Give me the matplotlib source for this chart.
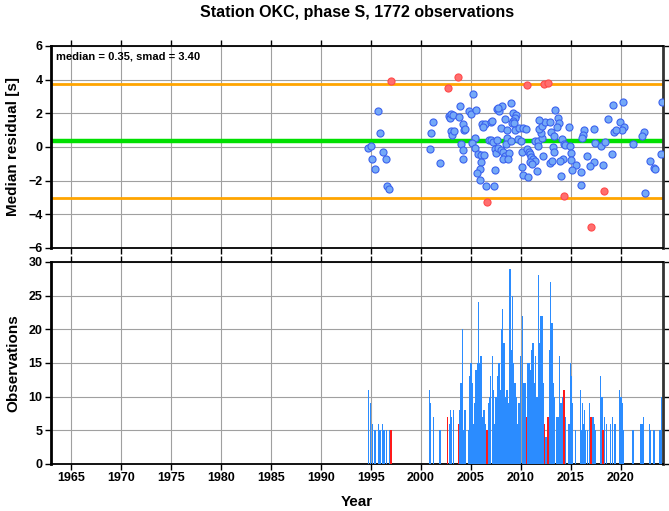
import numpy as np
import matplotlib
matplotlib.use("Agg")
import matplotlib.pyplot as plt

plt.rcParams['font.family'] = ['Liberation Sans', 'DejaVu Sans']
plt.rcParams['font.weight'] = 'bold'

# residual medians (year, residual [s])
blue_year = [1994.67, 1995.00, 1995.13, 1995.40, 1995.73, 1995.90, 1996.17, 1996.50, 1996.57, 1996.83,
             2000.87, 2000.97, 2001.20, 2001.90, 2002.80, 2002.90, 2003.00, 2003.20, 2003.00, 2003.15,
             2003.30, 2003.83, 2003.87, 2004.00, 2004.17, 2004.20, 2004.20, 2004.30,
             2005.17, 2004.77, 2005.00, 2005.50, 2007.60, 2007.83, 2008.13, 2007.70, 2008.97, 2009.20,
             2009.53, 2009.43, 2008.37, 2009.17, 2009.07, 2009.33, 2006.10, 2006.37, 2006.17, 2007.03,
             2007.13, 2004.37, 2007.97, 2008.60, 2009.37, 2009.83, 2010.23, 2010.50, 2008.60, 2005.37,
             2005.07, 2006.77, 2007.03, 2007.17, 2007.63, 2008.53, 2009.03, 2009.70, 2009.97, 2005.43,
             2005.67, 2006.00, 2006.30, 2006.03, 2005.93, 2005.57, 2005.87, 2006.50, 2007.30, 2007.37,
             2007.43, 2007.50, 2007.73, 2008.00, 2008.17, 2008.37, 2008.20, 2008.77, 2008.70, 2010.07,
             2010.13, 2010.23, 2010.70, 2010.60, 2010.77, 2010.93, 2011.03, 2011.23, 2011.37, 2010.90,
             2011.13, 2011.63, 2011.37, 2011.70, 2011.70, 2012.10, 2011.97, 2011.83, 2012.10, 2012.37,
             2012.90, 2011.83, 2012.23, 2013.40, 2013.73, 2013.83, 2013.63, 2013.03, 2013.27, 2013.17,
             2013.30, 2012.87, 2013.10, 2014.00, 2014.10, 2014.33, 2014.20, 2013.87,
             2019.17, 2020.20, 2024.07, 2018.67, 2014.77, 2016.30, 2016.20, 2016.10, 2017.33, 2019.93,
             2020.30, 2020.07, 2019.27, 2019.50, 2022.27, 2022.07, 2021.23, 2014.37, 2014.90, 2017.40,
             2017.97, 2018.43, 2019.07, 2024.00, 2015.03, 2014.97, 2015.47, 2015.10, 2016.03, 2016.63,
             2017.27, 2016.87, 2018.17, 2015.97, 2022.93, 2023.27, 2023.40, 2022.37]
blue_res = [-0.04, 0.08, -0.70, -1.31, 2.16, 0.81, -0.30, -0.73, -2.30, -2.50,
            -0.12, 0.81, 1.47, -0.97, 1.85, 1.70, 1.95, 1.90, 0.95, 0.70,
            0.95, 1.76, 2.45, 0.18, 1.37, -0.20, -0.70, 1.00,
            3.17, 2.16, 1.94, 2.18, 2.28, 2.12, 2.44, 2.34, 2.63, 2.00,
            1.90, 1.74, 1.68, 1.54, 1.41, 1.45, 1.35, 1.35, 1.17, 1.46,
            1.54, 1.05, 1.15, 1.01, 1.01, 1.15, 1.11, 1.05, 0.55, 0.55,
            0.26, 0.42, 0.42, 0.32, 0.40, 0.20, 0.36, 0.46, 0.36, -0.06,
            -0.42, -0.46, -0.48, -0.89, -1.33, -1.56, -1.98, -2.32, -2.32, -1.35,
            -0.10, -0.38, -0.08, -0.16, -0.32, -0.53, -0.73, -0.38, -0.73, -0.32,
            -1.21, -1.68, -1.78, -0.14, -0.32, -0.44, -0.57, -0.73, -0.81, -0.91,
            -1.03, -1.41, 0.38, 0.38, 0.06, 0.55, 0.81, 1.05, 1.27, 1.50,
            1.48, 1.60, -0.55, 2.22, 1.74, 1.41, 1.20, 0.91, 0.67, 0.02,
            -0.28, -0.97, -0.85, -1.72, 0.47, 0.18, -0.73, -0.81,
            2.52, 2.69, 2.65, 1.64, 1.19, 0.99, 0.71, 0.52, 1.09, 1.48,
            1.21, 0.99, 0.87, 0.99, 0.91, 0.63, 0.20, 0.12, 0.08, 0.26,
            0.06, 0.30, -0.40, -0.44, -0.38, -0.79, -1.05, -1.37, -1.49, -0.54,
            -0.91, -1.15, -1.05, -2.28, -0.81, -1.23, -1.31, -2.71]

red_year = [1996.97, 2002.67, 2003.73, 2006.60, 2010.60, 2012.30, 2012.70, 2014.30, 2017.00, 2018.27]
red_res = [3.92, 3.49, 4.18, -3.25, 3.68, 3.72, 3.82, -2.89, -4.77, -2.59]

median = 0.35
smad = 3.40

# observation counts per bin
obs_year = [1994.73, 1994.97, 1995.13, 1995.40, 1995.73, 1995.90, 1996.13, 1996.30, 1996.53, 1996.83,
            2000.83, 2000.97, 2001.23, 2001.90, 2002.83, 2002.97, 2003.07, 2003.23, 2003.90, 2004.00,
            2004.17, 2004.30, 2004.40, 2004.73, 2004.83, 2005.00, 2005.13, 2005.30, 2005.40, 2005.50,
            2005.63, 2005.73, 2005.87, 2006.00, 2006.13, 2006.30, 2006.47, 2006.73, 2006.83, 2006.97,
            2007.13, 2007.23, 2007.37, 2007.50, 2007.67, 2007.80, 2007.93, 2008.07, 2008.17, 2008.30,
            2008.47, 2008.60, 2008.73, 2008.90, 2009.00, 2009.13, 2009.27, 2009.40, 2009.53, 2009.67,
            2009.80, 2009.97, 2010.13, 2010.27, 2010.40, 2010.67, 2010.80, 2010.93, 2011.07, 2011.20,
            2011.33, 2011.47, 2011.60, 2011.73, 2011.87, 2012.00, 2012.13, 2012.23, 2012.50, 2012.83,
            2012.97, 2013.10, 2013.23, 2013.37, 2013.53, 2013.70, 2013.87, 2014.00, 2014.07, 2014.17,
            2014.40, 2014.77, 2014.90, 2014.97, 2015.03, 2015.13, 2015.43, 2015.93, 2016.03, 2016.13,
            2016.23, 2016.33, 2016.43, 2016.63, 2016.87, 2017.20, 2017.33, 2017.43, 2017.97, 2018.10,
            2018.33, 2018.57, 2018.93, 2019.17, 2019.33, 2019.43, 2019.87, 2020.00, 2020.13, 2020.23,
            2021.20, 2021.93, 2022.10, 2022.27, 2022.87, 2022.97, 2023.23, 2023.33, 2023.90, 2024.07]
obs_count = [11, 9, 6, 5, 6, 5, 6, 5, 5, 5,
             11, 9, 7, 5, 6, 8, 7, 8, 8, 12,
             20, 5, 8, 5, 13, 15, 12, 6, 9, 14,
             15, 24, 15, 16, 7, 8, 6, 9, 10, 13,
             16, 11, 6, 10, 13, 15, 11, 20, 23, 18,
             10, 11, 9, 29, 17, 25, 15, 12, 10, 6,
             9, 16, 22, 12, 12, 15, 15, 14, 17, 18,
             12, 16, 10, 28, 18, 22, 22, 12, 4, 17,
             27, 21, 12, 10, 7, 7, 16, 9, 8, 10,
             7, 6, 6, 15, 13, 9, 5, 11, 5, 9,
             6, 8, 5, 5, 9, 7, 6, 5, 13, 10,
             7, 6, 6, 7, 6, 6, 11, 10, 9, 5,
             5, 6, 6, 7, 6, 5, 5, 5, 5, 10]

red_obs_year = [1997.00, 2002.63, 2003.73, 2006.60, 2010.53, 2012.33, 2012.70, 2014.30, 2017.00, 2018.20]
red_obs_count = [5, 7, 6, 5, 7, 6, 7, 11, 7, 5]

fig = plt.figure(figsize=(6.69, 5.11), dpi=100)
ax1 = fig.add_axes([0.0762, 0.5147, 0.9148, 0.3953])
ax2 = fig.add_axes([0.0762, 0.0920, 0.9148, 0.3953])

xmin, xmax = 1963.0, 2024.2

for ax in (ax1, ax2):
    ax.set_xlim(xmin, xmax)
    ax.set_xticks(np.arange(1965, 2021, 5))
    ax.grid(True, color='#a0a0a0', lw=0.8)
    ax.set_axisbelow(True)
    ax.tick_params(direction='out', length=4, width=1, top=True, right=True,
                   labelsize=9, pad=2)
    for s in ('left', 'right'):
        ax.spines[s].set_linewidth(2.0)
    ax.spines['right'].set_color('#333333')
    for s in ('top', 'bottom'):
        ax.spines[s].set_linewidth(1.3)

# top panel
ax1.set_ylim(-6, 6)
ax1.set_yticks(np.arange(-6, 7, 2))
ax1.tick_params(labelbottom=False)
ax1.axhline(median + smad, color='orange', lw=2.0, zorder=2)
ax1.axhline(median - smad, color='orange', lw=2.0, zorder=2)
ax1.axhline(median, color='#00e000', lw=3.2, zorder=2)
ax1.scatter(blue_year, blue_res, s=26, c='#74a9f7', edgecolors='#3b62ee', linewidths=0.8, zorder=3)
ax1.scatter(red_year, red_res, s=26, c='#ff6e6e', edgecolors='#ff4a4a', linewidths=0.8, zorder=3)
ax1.set_ylabel('Median residual [s]', fontsize=11, fontweight='bold', labelpad=6)
ax1.text(0.008, 0.975, 'median = %.2f, smad = %.2f' % (median, smad), transform=ax1.transAxes,
         ha='left', va='top', fontsize=8, fontweight='bold')
ax1.set_title('Station OKC, phase S, 1772 observations', fontsize=11.5, fontweight='bold', pad=21)

# bottom panel
ax2.set_ylim(0, 30)
ax2.set_yticks(np.arange(0, 31, 5))
ax2.bar(obs_year, obs_count, width=0.14, color='#2b8cff', linewidth=0, zorder=3)
ax2.bar(red_obs_year, red_obs_count, width=0.14, color='#ff1a1a', linewidth=0, zorder=3)
ax2.set_ylabel('Observations', fontsize=11, fontweight='bold', labelpad=6)
ax2.set_xlabel('Year', fontsize=11, fontweight='bold', labelpad=8)

for ax in (ax1, ax2):
    for lab in ax.get_xticklabels() + ax.get_yticklabels():
        lab.set_fontweight('bold')

fig.savefig('out.png', dpi=100)
